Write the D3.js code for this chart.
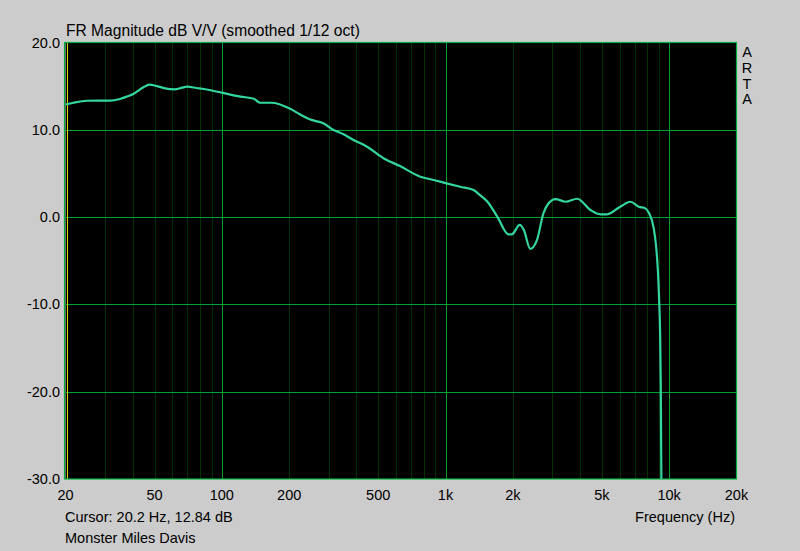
<!DOCTYPE html>
<html>
<head>
<meta charset="utf-8">
<script src="https://cdn.jsdelivr.net/npm/d3@7"></script>
<style>
  body { margin: 0; background: #cccccc; }
  text { font-family: "Liberation Sans", Arial, sans-serif; font-size: 14.5px; fill: #000; }
  text.title { font-size: 15.6px; }
</style>
</head>
<body>
<svg id="chart"></svg>
<script>
// frequency response (Hz, dB)
const freqs = [20, 21.7, 24.9, 28, 31.6, 35, 38, 40, 44.6, 47.4, 51.4, 55.7, 61.6, 66, 70, 77, 88,
    100, 121, 139, 148, 167, 200, 224, 247, 284, 316, 350, 388, 446, 528, 626, 772, 885,
    1010, 1162, 1335, 1436, 1486, 1540, 1704, 1914, 1980, 2146, 2240, 2394, 2565, 2740, 2890,
    3100, 3440, 3880, 4450, 4930, 5280, 6040, 6710, 7310, 7830, 8130, 8520, 8760, 8900,
    9020, 9110, 9170, 9230];
const levels = [12.9, 13.1, 13.33, 13.35, 13.35, 13.53, 13.85, 14.07, 14.87, 15.17, 15.0, 14.75, 14.64, 14.8, 14.94, 14.79, 14.56,
    14.25, 13.8, 13.56, 13.1, 13.1, 12.46, 11.75, 11.2, 10.74, 9.98, 9.48, 8.83, 8.06, 6.74, 5.85, 4.63, 4.25,
    3.87, 3.48, 3.1, 2.45, 2.15, 1.76, 0.05, -1.97, -1.97, -0.9, -1.48, -3.65, -2.62, 0.44, 1.58,
    2.07, 1.76, 2.1, 0.81, 0.32, 0.32, 1.19, 1.76, 1.19, 1.0, 0.44, -1.2, -3.6, -6.06,
    -9.5, -13.3, -19.0, -30];

const xTicks = [20, 50, 100, 200, 500, 1000, 2000, 5000, 10000, 20000];
const xTickLabels = ["20", "50", "100", "200", "500", "1k", "2k", "5k", "10k", "20k"];
const xMajor = [100, 1000, 10000];
const xMinor = [30, 40, 50, 60, 70, 80, 90, 200, 300, 400, 500, 600, 700, 800, 900,
    2000, 3000, 4000, 5000, 6000, 7000, 8000, 9000];
const yTicks = [20, 10, 0, -10, -20, -30];
const yTickLabels = ["20.0", "10.0", "0.0", "-10.0", "-20.0", "-30.0"];
const yGrid = [10, 0, -10, -20];
const cursorFreq = 20.2;

const W = 800, H = 551;
const plot = { left: 65.5, right: 736.5, top: 42.5, bottom: 479 };

const svg = d3.select("#chart").attr("width", W).attr("height", H);
svg.append("rect").attr("width", W).attr("height", H).attr("fill", "#cccccc");

const x = d3.scaleLog().domain([20, 20000]).range([plot.left, plot.right]);
const y = d3.scaleLinear().domain([-30, 20]).range([plot.bottom, plot.top]);

svg.append("rect")
    .attr("x", plot.left).attr("y", plot.top)
    .attr("width", plot.right - plot.left).attr("height", plot.bottom - plot.top)
    .attr("fill", "#000");

svg.append("clipPath").attr("id", "clip")
    .append("rect")
    .attr("x", plot.left).attr("y", plot.top)
    .attr("width", plot.right - plot.left).attr("height", plot.bottom - plot.top);

// grid
svg.selectAll(".minor").data(xMinor).enter().append("line")
    .attr("x1", d => Math.round(x(d)) + 0.5).attr("x2", d => Math.round(x(d)) + 0.5)
    .attr("y1", plot.top).attr("y2", plot.bottom)
    .attr("stroke", "#003200").attr("stroke-width", 1);

svg.selectAll(".majorx").data(xMajor).enter().append("line")
    .attr("x1", d => Math.round(x(d)) + 0.5).attr("x2", d => Math.round(x(d)) + 0.5)
    .attr("y1", plot.top).attr("y2", plot.bottom)
    .attr("stroke", "#00a030").attr("stroke-width", 1);

svg.selectAll(".majory").data(yGrid).enter().append("line")
    .attr("x1", plot.left).attr("x2", plot.right)
    .attr("y1", d => Math.round(y(d)) + 0.5).attr("y2", d => Math.round(y(d)) + 0.5)
    .attr("stroke", "#00a030").attr("stroke-width", 1);

// cursor
svg.append("line")
    .attr("x1", x(cursorFreq) + 1).attr("x2", x(cursorFreq) + 1)
    .attr("y1", plot.top).attr("y2", plot.bottom)
    .attr("stroke", "#e0e000").attr("stroke-width", 1);

// frame
svg.append("rect")
    .attr("x", plot.left - 1).attr("y", plot.top)
    .attr("width", plot.right - plot.left + 1).attr("height", plot.bottom - plot.top)
    .attr("fill", "none").attr("stroke", "#00b040").attr("stroke-width", 1.2);

// curve
const data = freqs.map((f, i) => ({ f: f, v: levels[i] }));
svg.append("path")
    .datum(data)
    .attr("clip-path", "url(#clip)")
    .attr("fill", "none")
    .attr("stroke", "#33d6a0")
    .attr("stroke-width", 2.2)
    .attr("d", d3.line().x(d => x(d.f)).y(d => y(d.v)).curve(d3.curveMonotoneX));

// axis labels
svg.selectAll(".ylab").data(yTicks).enter().append("text")
    .attr("x", 60).attr("y", d => y(d) + 5)
    .attr("text-anchor", "end")
    .text((d, i) => yTickLabels[i]);

svg.selectAll(".xlab").data(xTicks).enter().append("text")
    .attr("x", d => x(d)).attr("y", 500)
    .attr("text-anchor", "middle")
    .text((d, i) => xTickLabels[i]);

svg.append("text").attr("class", "title").attr("x", 66).attr("y", 36)
    .text("FR Magnitude dB V/V (smoothed 1/12 oct)");
svg.append("text").attr("x", 65).attr("y", 522)
    .text("Cursor: 20.2 Hz, 12.84 dB");
svg.append("text").attr("x", 65).attr("y", 543)
    .text("Monster Miles Davis");
svg.append("text").attr("x", 735).attr("y", 522).attr("text-anchor", "end")
    .text("Frequency (Hz)");

svg.selectAll(".arta").data(["A", "R", "T", "A"]).enter().append("text")
    .attr("x", 747).attr("y", (d, i) => 57 + i * 15.8)
    .attr("text-anchor", "middle")
    .text(d => d);
</script>
</body>
</html>
